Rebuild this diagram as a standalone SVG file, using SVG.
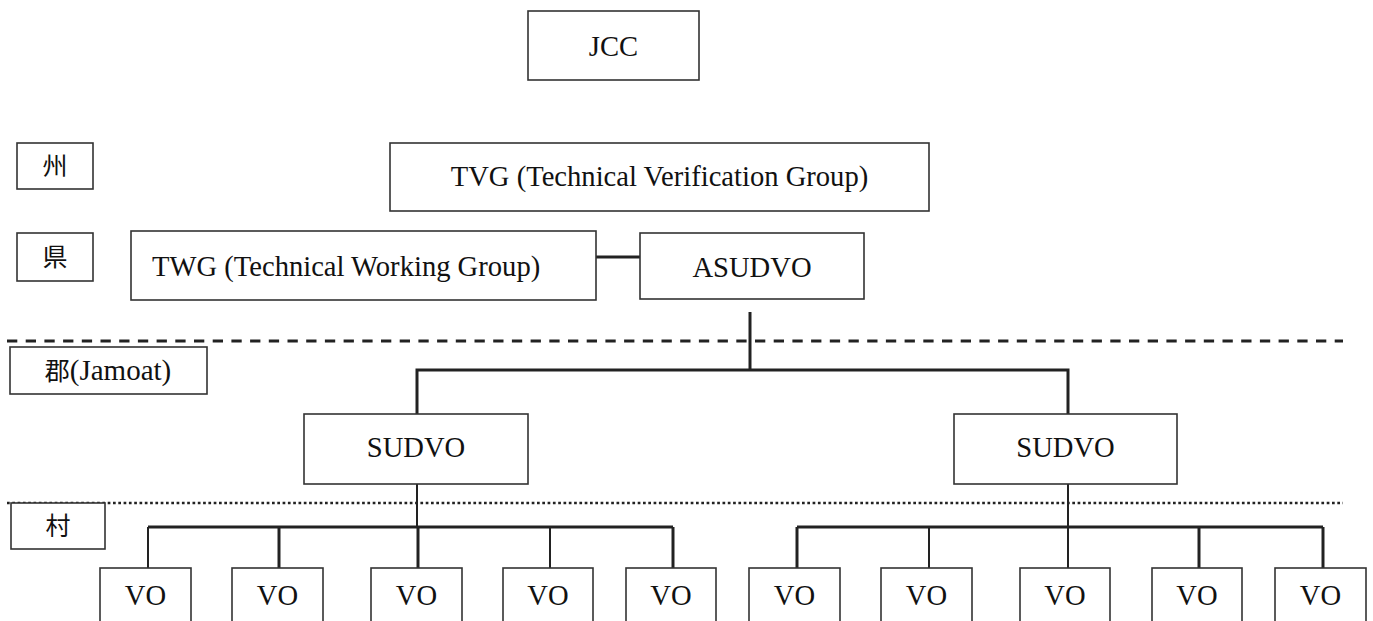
<svg xmlns="http://www.w3.org/2000/svg" width="1373" height="621" viewBox="0 0 1373 621">
<style>
.box{fill:#fff;stroke:#333;stroke-width:1.6}
.t{font-family:"Liberation Serif","Times New Roman",serif;font-size:28.6px;fill:#111;text-anchor:middle}
.cjk{font-family:"Liberation Serif","Noto Sans CJK JP",serif;font-size:25px;fill:#111;text-anchor:middle}
.thick{stroke:#222;stroke-width:3;fill:none}
.thin{stroke:#222;stroke-width:2;fill:none}
.dash{stroke:#222;stroke-width:3;stroke-dasharray:10.3 8.4;fill:none}
.dot{stroke:#222;stroke-width:2.6;stroke-dasharray:2.7 2.6;fill:none}
</style>
<rect width="1373" height="621" fill="#fff"/>
<g id="dividers">
<line class="dash" x1="7" y1="341" x2="1343" y2="341"/>
<line class="dot" x1="7" y1="503" x2="1343" y2="503"/>
</g>
<g id="connectors">
<line class="thick" x1="596" y1="257" x2="640" y2="257"/>
<line class="thick" x1="750" y1="312" x2="750" y2="370"/>
<polyline class="thick" points="417,414 417,370 1068,370 1068,414"/>
<line class="thin" x1="417" y1="484" x2="417" y2="527"/>
<line class="thin" x1="1068" y1="484" x2="1068" y2="527"/>
<line class="thick" x1="148" y1="527" x2="673" y2="527"/>
<line class="thin" x1="148" y1="527" x2="148" y2="568"/>
<line class="thick" x1="279" y1="527" x2="279" y2="568"/>
<line class="thick" x1="418" y1="527" x2="418" y2="568"/>
<line class="thin" x1="550" y1="527" x2="550" y2="568"/>
<line class="thick" x1="673" y1="527" x2="673" y2="568"/>
<line class="thick" x1="797" y1="527" x2="1323" y2="527"/>
<line class="thick" x1="797" y1="527" x2="797" y2="568"/>
<line class="thin" x1="929" y1="527" x2="929" y2="568"/>
<line class="thin" x1="1068" y1="527" x2="1068" y2="568"/>
<line class="thick" x1="1199" y1="527" x2="1199" y2="568"/>
<line class="thick" x1="1323" y1="527" x2="1323" y2="568"/>
</g>
<g id="jcc"><rect class="box" x="528" y="11" width="171" height="69"/><text class="t" x="613.5" y="56">JCC</text></g>
<g id="label-shu"><rect class="box" x="17" y="143" width="76" height="46"/><text class="cjk" x="55" y="175">州</text></g>
<g id="tvg"><rect class="box" x="390" y="143" width="539" height="68"/><text class="t" x="659.5" y="186">TVG (Technical Verification Group)</text></g>
<g id="label-ken"><rect class="box" x="17" y="233" width="76" height="48"/><text class="cjk" x="55" y="266">県</text></g>
<g id="twg"><rect class="box" x="131" y="231" width="465" height="69"/><text class="t" x="152" y="276" style="text-anchor:start">TWG (Technical Working Group)</text></g>
<g id="asudvo"><rect class="box" x="640" y="233" width="224" height="66"/><text class="t" x="752" y="277">ASUDVO</text></g>
<g id="label-gun"><rect class="box" x="10" y="347" width="197" height="47"/><text class="cjk" x="108" y="380"><tspan>郡</tspan><tspan style="font-size:29px">(Jamoat)</tspan></text></g>
<g id="sudvo-left"><rect class="box" x="304" y="414" width="224" height="70"/><text class="t" x="416" y="457">SUDVO</text></g>
<g id="sudvo-right"><rect class="box" x="954" y="414" width="223" height="70"/><text class="t" x="1065.5" y="457">SUDVO</text></g>
<g id="label-son"><rect class="box" x="11" y="503" width="94" height="46"/><text class="cjk" x="58" y="535">村</text></g>
<g id="vo1"><rect class="box" x="100" y="568" width="91" height="70"/><text class="t" x="145.5" y="605">VO</text></g>
<g id="vo2"><rect class="box" x="232" y="568" width="91" height="70"/><text class="t" x="277.5" y="605">VO</text></g>
<g id="vo3"><rect class="box" x="371" y="568" width="91" height="70"/><text class="t" x="416.5" y="605">VO</text></g>
<g id="vo4"><rect class="box" x="503" y="568" width="90" height="70"/><text class="t" x="548" y="605">VO</text></g>
<g id="vo5"><rect class="box" x="626" y="568" width="90" height="70"/><text class="t" x="671" y="605">VO</text></g>
<g id="vo6"><rect class="box" x="749" y="568" width="91" height="70"/><text class="t" x="794.5" y="605">VO</text></g>
<g id="vo7"><rect class="box" x="881" y="568" width="91" height="70"/><text class="t" x="926.5" y="605">VO</text></g>
<g id="vo8"><rect class="box" x="1020" y="568" width="90" height="70"/><text class="t" x="1065" y="605">VO</text></g>
<g id="vo9"><rect class="box" x="1152" y="568" width="90" height="70"/><text class="t" x="1197" y="605">VO</text></g>
<g id="vo10"><rect class="box" x="1275" y="568" width="91" height="70"/><text class="t" x="1320.5" y="605">VO</text></g>
</svg>
